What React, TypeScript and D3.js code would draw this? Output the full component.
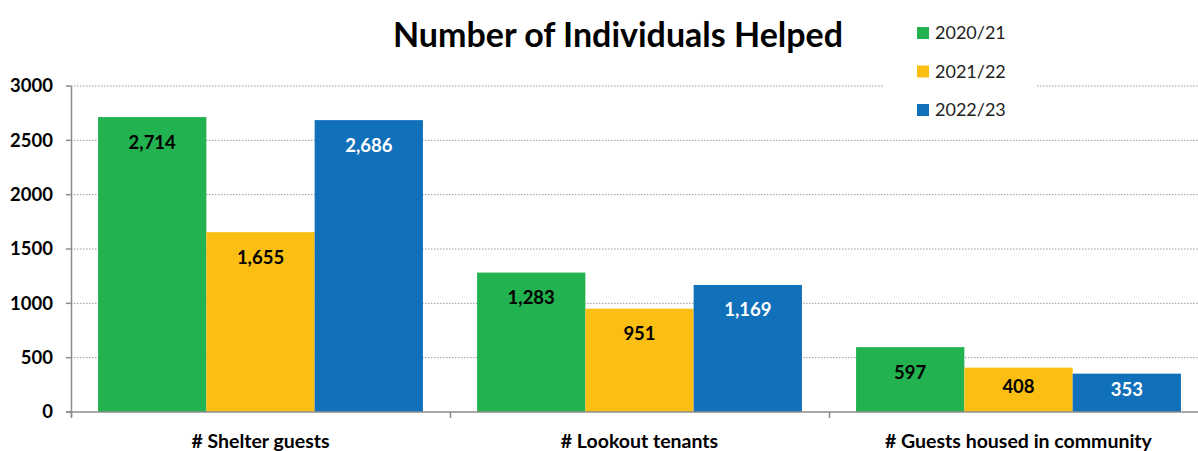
import { useEffect, useRef } from "react";
import * as d3 from "d3";

const categories = ["# Shelter guests", "# Lookout tenants", "# Guests housed in community"];
const seriesNames = ["2020/21", "2021/22", "2022/23"];
const values2020 = [2714, 1283, 597];
const values2021 = [1655, 951, 408];
const values2022 = [2686, 1169, 353];
const yTicks = [0, 500, 1000, 1500, 2000, 2500, 3000];

const colors = ["#22B24F", "#FBBF14", "#1170BA"];
const labelColors = ["#000", "#000", "#fff"];

const App = () => {
  const svgRef = useRef<SVGSVGElement | null>(null);
  const width = 1198;
  const height = 451;
  const margin = { top: 86, bottom: 39, left: 71 };
  const font = "Lato, 'Open Sans', sans-serif";

  useEffect(() => {
    const svg = d3.select(svgRef.current);
    svg.selectAll("*").remove();

    const series = [values2020, values2021, values2022];

    // three bands of 379px from the y axis, the last one is cut off by the frame
    const x0 = d3
      .scaleBand()
      .domain(categories)
      .range([margin.left, margin.left + 379 * 3])
      .paddingInner(0)
      .paddingOuter(0);
    const x1 = d3
      .scaleBand()
      .domain(seriesNames)
      .range([0, x0.bandwidth()])
      .paddingOuter(0.25)
      .paddingInner(0);
    const y = d3
      .scaleLinear()
      .domain([0, 3000])
      .range([height - margin.bottom, margin.top]);

    // gridlines
    svg
      .append("g")
      .selectAll("line")
      .data(yTicks.filter((d) => d > 0))
      .enter()
      .append("line")
      .attr("x1", margin.left)
      .attr("x2", width)
      .attr("y1", (d) => y(d))
      .attr("y2", (d) => y(d))
      .attr("stroke", "#9a9a9a")
      .attr("stroke-width", 1)
      .attr("stroke-dasharray", "1.5,1.5");

    // bars
    categories.forEach((cat, ci) => {
      const g = svg.append("g").attr("transform", `translate(${x0(cat)},0)`);
      seriesNames.forEach((s, si) => {
        const v = series[si][ci];
        g.append("rect")
          .attr("x", x1(s)!)
          .attr("y", y(v))
          .attr("width", x1.bandwidth())
          .attr("height", y(0) - y(v))
          .attr("fill", colors[si]);
        const top = y(v);
        const ly = Math.min(top + 25, (top + y(0)) / 2 - 3);
        g.append("text")
          .attr("x", x1(s)! + x1.bandwidth() / 2)
          .attr("y", ly)
          .attr("dy", "0.35em")
          .attr("text-anchor", "middle")
          .attr("font-family", font)
          .attr("font-weight", "bold")
          .attr("font-size", "18.5px")
          .attr("fill", labelColors[si])
          .text(d3.format(",")(v));
      });
    });

    // y axis
    const axisColor = "#8c8c8c";
    svg
      .append("line")
      .attr("x1", margin.left + 0.5)
      .attr("x2", margin.left + 0.5)
      .attr("y1", y(3000))
      .attr("y2", y(0) + 5)
      .attr("stroke", axisColor)
      .attr("stroke-width", 1.5);
    svg
      .append("g")
      .selectAll("line")
      .data(yTicks)
      .enter()
      .append("line")
      .attr("x1", margin.left - 5)
      .attr("x2", margin.left)
      .attr("y1", (d) => y(d))
      .attr("y2", (d) => y(d))
      .attr("stroke", axisColor)
      .attr("stroke-width", 1.5);
    svg
      .append("g")
      .selectAll("text")
      .data(yTicks)
      .enter()
      .append("text")
      .attr("x", margin.left - 18)
      .attr("y", (d) => y(d))
      .attr("dy", "0.35em")
      .attr("text-anchor", "end")
      .attr("font-family", font)
      .attr("font-weight", "bold")
      .attr("font-size", "18.5px")
      .attr("fill", "#000")
      .text((d) => d);

    // x axis
    svg
      .append("line")
      .attr("x1", margin.left - 5)
      .attr("x2", width)
      .attr("y1", y(0))
      .attr("y2", y(0))
      .attr("stroke", axisColor)
      .attr("stroke-width", 1.5);
    svg
      .append("g")
      .selectAll("line")
      .data(categories)
      .enter()
      .append("line")
      .attr("x1", (d) => x0(d)! + 0.5)
      .attr("x2", (d) => x0(d)! + 0.5)
      .attr("y1", y(0))
      .attr("y2", y(0) + 6)
      .attr("stroke", axisColor)
      .attr("stroke-width", 1.5);
    svg
      .append("g")
      .selectAll("text")
      .data(categories)
      .enter()
      .append("text")
      .attr("x", (d) => x0(d)! + x0.bandwidth() / 2)
      .attr("y", 441)
      .attr("dy", "0.35em")
      .attr("text-anchor", "middle")
      .attr("font-family", font)
      .attr("font-weight", "bold")
      .attr("font-size", "19.5px")
      .attr("fill", "#000")
      .text((d) => d);

    // title
    svg
      .append("text")
      .attr("x", 618)
      .attr("y", 35)
      .attr("dy", "0.35em")
      .attr("text-anchor", "middle")
      .attr("font-family", font)
      .attr("font-weight", "bold")
      .attr("font-size", "34px")
      .attr("fill", "#000")
      .text("Number of Individuals Helped");

    // legend with white box over the gridline
    const legend = svg.append("g").attr("transform", "translate(884,10)");
    legend.append("rect").attr("width", 152).attr("height", 116).attr("fill", "#fff");
    seriesNames.forEach((s, i) => {
      const row = legend.append("g").attr("transform", `translate(0,${23 + i * 38.5})`);
      row
        .append("rect")
        .attr("x", 33)
        .attr("y", -6)
        .attr("width", 12)
        .attr("height", 12)
        .attr("fill", colors[i]);
      row
        .append("text")
        .attr("x", 51)
        .attr("y", 0)
        .attr("dy", "0.35em")
        .attr("font-family", font)
        .attr("font-size", "18px")
        .attr("fill", "#222")
        .text(s);
    });
  }, []);

  return (
    <svg
      ref={svgRef}
      width={width}
      height={height}
      style={{ position: "absolute", left: 0, top: 0, background: "#fff" }}
    />
  );
};

export default App;
